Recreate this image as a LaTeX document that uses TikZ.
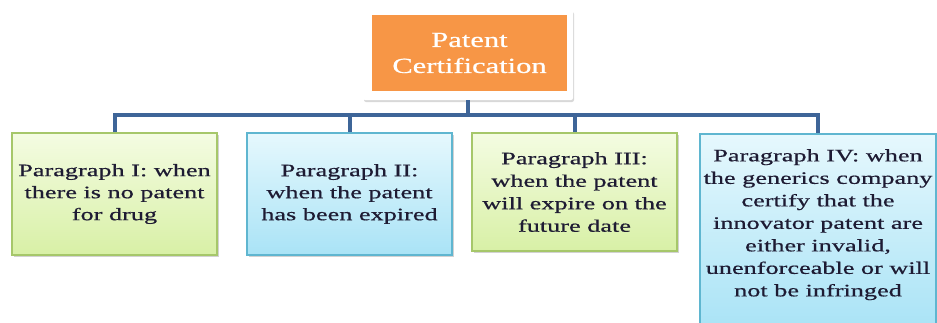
\documentclass[tikz,border=0pt]{standalone}
\usepackage{fontspec}
\setmainfont{Liberation Serif}
\newfontfamily\boxfont[FakeStretch=1.5,FakeBold=0.6]{Liberation Serif}
\newfontfamily\headfont[FakeStretch=1.42,FakeBold=0.6]{Liberation Serif}
\usetikzlibrary{shadows}

\definecolor{headorange}{HTML}{F79646}
\definecolor{linkblue}{HTML}{3E6598}
\definecolor{greentop}{HTML}{F4FCE2}
\definecolor{greenbot}{HTML}{D8F0A6}
\definecolor{greenedge}{HTML}{A6C76A}
\definecolor{bluetop}{HTML}{E6F8FD}
\definecolor{bluebot}{HTML}{A9E3F6}
\definecolor{blueedge}{HTML}{5FB6D0}
\definecolor{inktext}{HTML}{1E1B33}

\tikzset{
  conn/.style={draw=linkblue, line width=4pt},
  itembox/.style={rectangle, line width=1.6pt, align=center, text=inktext,
    font=\boxfont\fontsize{17.5}{22}\selectfont, inner sep=0pt,
    drop shadow={shadow xshift=1.5pt, shadow yshift=-1.5pt, opacity=0.35, fill=gray}},
  greenbox/.style={itembox, draw=greenedge, top color=greentop, bottom color=greenbot},
  bluebox/.style={itembox, draw=blueedge, top color=bluetop, bottom color=bluebot},
}

\begin{document}
\begin{tikzpicture}[x=1pt,y=-1pt]
\useasboundingbox[fill=white] (0,0) rectangle (937,322);

% heading: white frame carrying the orange title block
\node[rectangle, rounded corners=2pt, fill=white, minimum width=210pt, minimum height=90pt,
      inner sep=0pt, drop shadow={shadow xshift=1pt, shadow yshift=-2pt, opacity=0.3, fill=gray}]
      (topframe) at (468,55) {};
\node[rectangle, fill=headorange, minimum width=195pt, minimum height=76pt, inner sep=0pt,
      text=white, align=center, font=\headfont\fontsize{21.5}{26}\selectfont]
      (top) at (469.5,53) {Patent\\Certification};

% the four certification paragraphs
\node[greenbox, minimum width=205pt, minimum height=122pt] (p1) at (114.5,194)
  {Paragraph I: when\\there is no patent\\for drug};
\node[bluebox, minimum width=205pt, minimum height=122pt] (p2) at (349.5,194)
  {Paragraph II:\\when the patent\\has been expired};
\node[greenbox, minimum width=205pt, minimum height=118pt, font=\boxfont\fontsize{17.5}{22.5}\selectfont]
  (p3) at (574.5,192)
  {Paragraph III:\\when the patent\\will expire on the\\future date};
\node[bluebox, minimum width=236pt, minimum height=196pt, anchor=north] (p4) at (818,133) {};
\node[text=inktext, align=center, font=\boxfont\fontsize{17.5}{22.5}\selectfont,
      inner sep=0pt, anchor=north] (p4text) at (818,149)
  {Paragraph IV: when\\the generics company\\certify that the\\innovator patent are\\either invalid,\\unenforceable or will\\not be infringed};

% connectors from the heading down to each paragraph
\coordinate (bus) at (468,115);
\draw[conn] (topframe.south) -- (bus) -| (p1.north);
\draw[conn] (bus) -| (p2.north);
\draw[conn] (bus) -| (p3.north);
\draw[conn] (bus) -| (p4.north);
\end{tikzpicture}
\end{document}
